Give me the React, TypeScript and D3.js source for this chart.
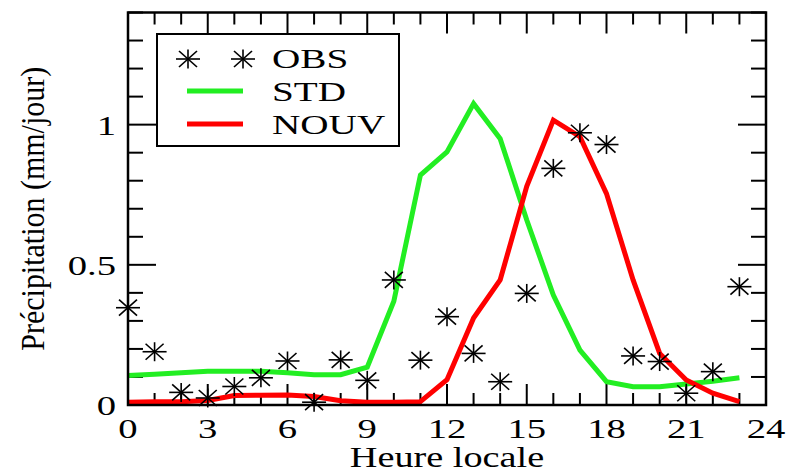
import * as d3 from "d3";

const hours = [0, 1, 2, 3, 4, 5, 6, 7, 8, 9, 10, 11, 12, 13, 14, 15, 16, 17, 18, 19, 20, 21, 22, 23];
const obs = [0.347, 0.19, 0.045, 0.025, 0.066, 0.097, 0.157, 0.01, 0.161, 0.088, 0.446, 0.16, 0.315, 0.184, 0.083, 0.398, 0.844, 0.971, 0.929, 0.175, 0.155, 0.042, 0.119, 0.422];
const std = [0.105, 0.11, 0.115, 0.12, 0.12, 0.12, 0.115, 0.108, 0.108, 0.135, 0.37, 0.82, 0.903, 1.075, 0.95, 0.66, 0.392, 0.196, 0.083, 0.065, 0.065, 0.075, 0.085, 0.097];
const nouv = [0.01, 0.012, 0.012, 0.016, 0.034, 0.035, 0.036, 0.03, 0.015, 0.01, 0.01, 0.012, 0.09, 0.31, 0.446, 0.78, 1.016, 0.957, 0.754, 0.446, 0.184, 0.089, 0.042, 0.012];
const xTickLabels = ["0", "3", "6", "9", "12", "15", "18", "21", "24"];
const yTickLabels = ["0", "0.5", "1"];

const width = 789,
  height = 474;
const MARGIN = { top: 12.5, right: 23, bottom: 69, left: 128 };
const FONT = "'Liberation Serif', 'Times New Roman', serif";
const SX = 1.38; // the picture is stretched sideways

const Star = ({ x, y }: { x: number; y: number }) => (
  <g transform={`translate(${x},${y})`} stroke="#000" strokeWidth={1.6}>
    <line x1={-12} x2={12} y1={0} y2={0} />
    <line x1={0} x2={0} y1={-9.5} y2={9.5} />
    <line x1={-9} x2={9} y1={-8} y2={8} />
    <line x1={-9} x2={9} y1={8} y2={-8} />
  </g>
);

const App = () => {
  const x0 = MARGIN.left,
    x1 = width - MARGIN.right,
    y0 = height - MARGIN.bottom,
    y1 = MARGIN.top;

  const xScale = d3.scaleLinear().domain([0, 24]).range([x0, x1]);
  const yScale = d3.scaleLinear().domain([0, 1.4]).range([y0, y1]);

  const line = d3
    .line<number>()
    .x((_, i) => xScale(hours[i]))
    .y((d) => yScale(d));

  // ticks, inward on all four sides
  const xMinor = d3.range(0, 25, 1);
  const yMinor = d3.range(0, 15, 1).map((v) => v / 10);
  const ticks: JSX.Element[] = [];
  xMinor.forEach((v, i) => {
    const len = v % 3 === 0 ? 21 : 12;
    const x = xScale(v);
    ticks.push(<line key={`xb${i}`} x1={x} x2={x} y1={y0} y2={y0 - len} />);
    ticks.push(<line key={`xt${i}`} x1={x} x2={x} y1={y1} y2={y1 + len} />);
  });
  yMinor.forEach((v, i) => {
    const len = i % 5 === 0 ? 28 : 15;
    const y = yScale(v);
    ticks.push(<line key={`yl${i}`} x1={x0} x2={x0 + len} y1={y} y2={y} />);
    ticks.push(<line key={`yr${i}`} x1={x1} x2={x1 - len} y1={y} y2={y} />);
  });

  const lg = { x: 157, y: 34, w: 242, h: 112 };

  return (
    <svg
      width={width}
      height={height}
      style={{ position: "absolute", left: 0, top: 0, background: "#fff" }}
      fontFamily={FONT}
    >
      <g stroke="#000" strokeWidth={2}>
        {ticks}
      </g>

      {xTickLabels.map((t) => (
        <text
          key={t}
          transform={`translate(${xScale(+t)},438) scale(${SX},1)`}
          textAnchor="middle"
          fontSize={28}
        >
          {t}
        </text>
      ))}
      {yTickLabels.map((t) => (
        <text
          key={t}
          transform={`translate(116,${yScale(+t) + 10}) scale(${SX},1)`}
          textAnchor="end"
          fontSize={28}
        >
          {t}
        </text>
      ))}

      <text
        transform={`translate(${(x0 + x1) / 2},467) scale(1.32,1)`}
        textAnchor="middle"
        fontSize={29}
      >
        Heure locale
      </text>
      <text
        transform={`translate(44,${(y0 + y1) / 2}) rotate(-90) scale(1,1.15)`}
        textAnchor="middle"
        fontSize={30}
      >
        Précipitation (mm/jour)
      </text>

      <path d={line(std) || ""} fill="none" stroke="#22ee22" strokeWidth={5} strokeLinejoin="miter" />
      <path d={line(nouv) || ""} fill="none" stroke="#ff0000" strokeWidth={5} strokeLinejoin="miter" />

      {obs.map((v, i) => (
        <Star key={i} x={xScale(hours[i])} y={yScale(v)} />
      ))}

      <rect x={x0} y={y1} width={x1 - x0} height={y0 - y1} fill="none" stroke="#000" strokeWidth={2.5} />

      <g>
        <rect x={lg.x} y={lg.y} width={lg.w} height={lg.h} fill="#fff" stroke="#000" strokeWidth={2} />
        <Star x={188} y={59} />
        <Star x={243} y={59} />
        <line x1={187} x2={243} y1={91} y2={91} stroke="#22ee22" strokeWidth={5} />
        <line x1={187} x2={243} y1={124} y2={124} stroke="#ff0000" strokeWidth={5} />
        {["OBS", "STD", "NOUV"].map((t, i) => (
          <text key={t} transform={`translate(272,${68 + i * 33}) scale(1.4,1)`} fontSize={28}>
            {t}
          </text>
        ))}
      </g>
    </svg>
  );
};

export default App;
